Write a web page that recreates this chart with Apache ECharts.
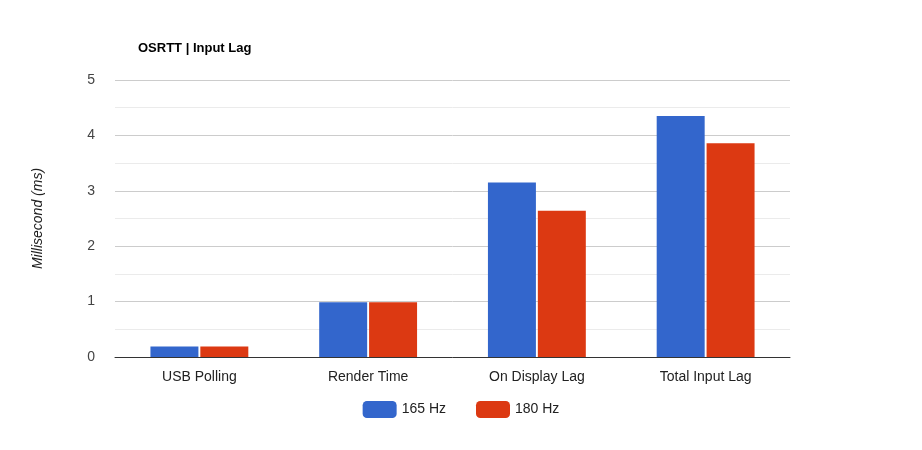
<!DOCTYPE html>
<html lang="en">
<head>
<meta charset="UTF-8" />
<title>OSRTT | Input Lag</title>
<script src="https://cdn.jsdelivr.net/npm/echarts@6/dist/echarts.min.js"></script>
<style>html,body{margin:0;padding:0;background:#fff}</style>
</head>
<body>
<div id="chart" style="width:922px;height:450px;"></div>
<script>
var categories = ['USB Polling', 'Render Time', 'On Display Lag', 'Total Input Lag'];
var hz165 = [0.19, 0.99, 3.15, 4.35];
var hz180 = [0.19, 0.99, 2.64, 3.86];

var chart = echarts.init(document.getElementById('chart'));
chart.setOption({
    animation: false,
    textStyle: { fontFamily: 'Arial, Liberation Sans, sans-serif' },
    title: {
        text: 'OSRTT | Input Lag',
        left: 133, top: 37,
        textStyle: { fontSize: 13, fontWeight: 'bold', color: '#000' }
    },
    legend: {
        bottom: 27, left: 'center',
        itemWidth: 34, itemHeight: 17, itemGap: 30,
        textStyle: { fontSize: 14, color: '#222' },
        data: ['165 Hz', '180 Hz']
    },
    grid: { left: 115, right: 132, top: 80, bottom: 93 },
    xAxis: {
        type: 'category',
        data: categories,
        axisTick: { show: false },
        axisLine: { lineStyle: { color: '#333' } },
        axisLabel: { fontSize: 14, color: '#222', margin: 13 }
    },
    yAxis: {
        type: 'value',
        min: 0, max: 5, interval: 1,
        name: 'Millisecond (ms)',
        nameLocation: 'middle',
        nameGap: 70,
        nameTextStyle: { fontStyle: 'italic', fontSize: 14, color: '#222' },
        axisLabel: { fontSize: 14, color: '#444', margin: 20 },
        splitLine: { lineStyle: { color: '#ccc' } },
        minorTick: { show: false, splitNumber: 2 },
        minorSplitLine: { show: true, lineStyle: { color: '#ebebeb' } }
    },
    series: [
        { name: '165 Hz', type: 'bar', data: hz165, barGap: '4%', barCategoryGap: '42%',
          itemStyle: { color: '#3366cc' } },
        { name: '180 Hz', type: 'bar', data: hz180,
          itemStyle: { color: '#dc3912' } }
    ]
});
</script>
</body>
</html>
